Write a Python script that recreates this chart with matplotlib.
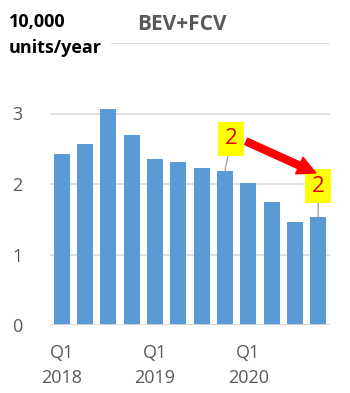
import matplotlib.pyplot as plt
from matplotlib.patches import FancyArrowPatch

# quarterly sales, Q1 2018 .. Q4 2020 (10,000 units/year)
quarters = ["Q1\n2018", "", "", "", "Q1\n2019", "", "", "", "Q1\n2020", "", "", ""]
values = [2.42, 2.57, 3.07, 2.69, 2.35, 2.31, 2.22, 2.19, 2.01, 1.74, 1.46, 1.53]
yticks = [0, 1, 2, 3]
labelled = [7, 11]  # bars carrying a data label

plt.rcParams["font.family"] = ["Open Sans", "DejaVu Sans"]

fig = plt.figure(figsize=(3.5, 3.93), dpi=100)
ax = fig.add_axes([50 / 350, 1 - 325 / 393, 280 / 350, 282 / 393])

x = list(range(len(values)))
ax.bar(x, values, width=0.68, color="#5B9BD5", zorder=2)

ax.set_xlim(-0.5, len(values) - 0.5)
ax.set_ylim(0, 4)
ax.set_yticks(yticks)
ax.set_yticklabels([str(t) for t in yticks], fontsize=13, color="#595959")
ax.set_xticks(x)
ax.set_xticklabels(quarters, fontsize=13, color="#595959", linespacing=1.45)
ax.tick_params(axis="y", length=0, pad=20)
ax.tick_params(axis="x", length=0, pad=14)
ax.grid(axis="y", color="#D9D9D9", linewidth=1.2, zorder=0)
ax.axhline(4, color="#D9D9D9", linewidth=1.2, zorder=0)
for s in ax.spines.values():
    s.set_visible(False)
ax.axhline(0, color="#D9D9D9", linewidth=1.2, zorder=3)

# data labels with leader lines
offsets = {7: (0.26, 0.45), 11: (-0.01, 0.44)}
for i in labelled:
    dx, dy = offsets[i]
    ax.annotate(f"{values[i]:.0f}", xy=(i, values[i]), xytext=(i + dx, values[i] + dy),
                ha="center", va="center", fontsize=16, color="#E00000",
                bbox=dict(boxstyle="square,pad=0.3", fc="#FFFF00", ec="none"),
                arrowprops=dict(arrowstyle="-", color="#A6A6A6", lw=1,
                                shrinkA=0, shrinkB=0),
                zorder=5)

# red arrow between the two labels
arr = FancyArrowPatch((7.8, 2.62), (11.0, 2.14), arrowstyle="simple,head_width=13,head_length=13,tail_width=5",
                      color="#FF0000", mutation_scale=1, zorder=6)
ax.add_patch(arr)

fig.text(182 / 350, 1 - 25 / 393, "BEV+FCV", ha="center", va="center",
         fontsize=15, fontweight="bold", color="#595959")
fig.text(9 / 350, 1 - 22 / 393, "10,000", ha="left", va="center",
         fontsize=13, fontweight="bold", color="black")
# units label sits on a white patch that hides the left end of the top gridline
fig.text(9 / 350, 1 - 48 / 393, "units/year", ha="left", va="center",
         fontsize=13, fontweight="bold", color="black",
         bbox=dict(boxstyle="square,pad=0.5", fc="white", ec="none"))

fig.savefig("out.png", dpi=100, facecolor="white")
